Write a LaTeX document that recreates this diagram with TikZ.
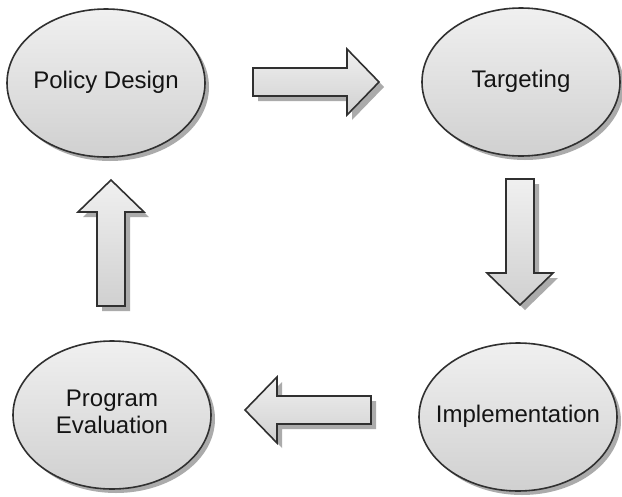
\documentclass[tikz,border=0pt]{standalone}
\usepackage{fontspec}
\setmainfont{Liberation Sans}
\usetikzlibrary{shapes.geometric,shadows}
\definecolor{edgecol}{HTML}{303030}
\definecolor{shadowcol}{HTML}{ABABAB}
\definecolor{topfill}{HTML}{F0F0F0}
\definecolor{botfill}{HTML}{D0D0D0}
\definecolor{textcol}{HTML}{141414}
\newcommand{\zw}[1]{\makebox[0pt][c]{\begin{tabular}{@{}c@{}}#1\end{tabular}}}
\tikzset{
  stage/.style={ellipse, draw=edgecol, line width=1.6pt, top color=topfill, bottom color=botfill,
    minimum width=198pt, minimum height=148pt, inner sep=0pt, text=textcol,
    font=\fontsize{24}{27}\selectfont,
    drop shadow={shadow xshift=4pt, shadow yshift=-4pt, fill=shadowcol, opacity=1}},
  arrowbody/.style={draw=edgecol, line width=1.6pt, top color=topfill, bottom color=botfill},
  arrowshade/.style={fill=shadowcol},
  pics/barrow/.style={code={
    \path[#1] (0,-14) -- (94,-14) -- (94,-33) -- (126,0) -- (94,33) -- (94,14) -- (0,14) -- cycle;
  }}
}
\begin{document}
\begin{tikzpicture}[x=1pt,y=-1pt]
\useasboundingbox (0,0) rectangle (622,496);
\fill[white] (0,0) rectangle (622,496);

\node[stage] (policy) at (106,83) {\zw{Policy Design}};
\node[stage] (target) at (521,82) {\zw{Targeting}};
\node[stage] (impl) at (518,417) {\zw{Implementation}};
\node[stage] (eval) at (112,415) {\zw{Program\\Evaluation}};

% arrow anchors
\coordinate (a1) at (253,82);
\coordinate (a2) at (520,179);
\coordinate (a3) at (371,410);
\coordinate (a4) at (111,306);

% shadows
\pic at ([shift={(5,5)}]a1) {barrow=arrowshade};
\pic[rotate=-90] at ([shift={(5,5)}]a2) {barrow=arrowshade};
\pic[rotate=180] at ([shift={(5,5)}]a3) {barrow=arrowshade};
\pic[rotate=90] at ([shift={(5,5)}]a4) {barrow=arrowshade};

% arrows
\pic at (a1) {barrow=arrowbody};
\pic[rotate=-90] at (a2) {barrow=arrowbody};
\pic[rotate=180] at (a3) {barrow=arrowbody};
\pic[rotate=90] at (a4) {barrow=arrowbody};
\end{tikzpicture}
\end{document}
